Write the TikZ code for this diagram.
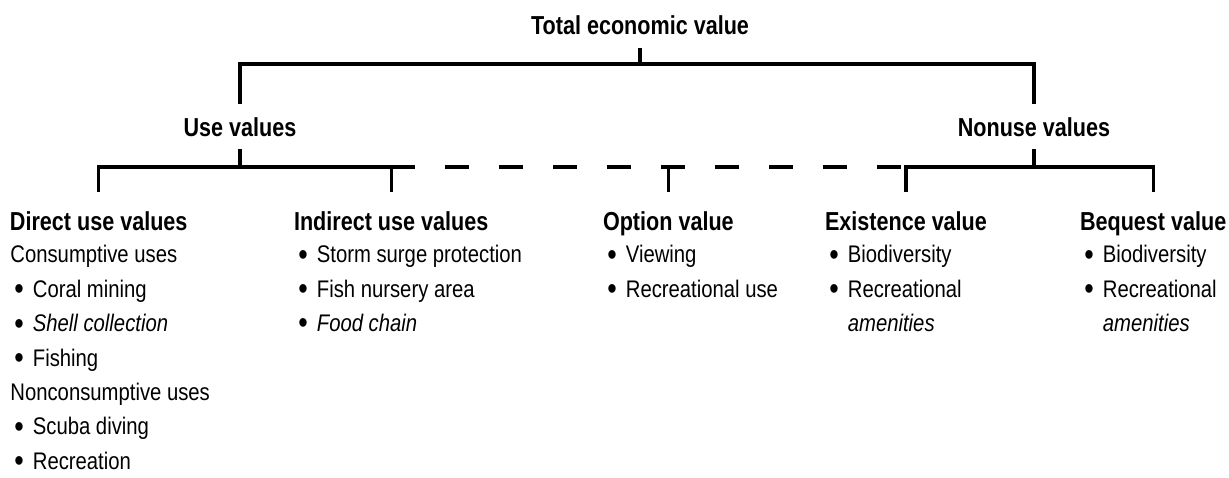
\documentclass[tikz,border=0pt]{standalone}
\usepackage{fontspec}
\setmainfont{Liberation Sans}[FakeStretch=0.845]
\newfontfamily\headfont{Liberation Sans}[FakeStretch=0.83]
\usepackage{tikz}
\usetikzlibrary{calc}
\newcommand{\itm}{\hspace*{2pt}\raisebox{-1.2pt}{\fontsize{16}{16}\selectfont\textbullet}\hspace{4.5pt}}
\newcommand{\itmgap}{\hphantom{\itm}}

\begin{document}
\begin{tikzpicture}[x=0.5pt, y=-0.5pt,
  headbox/.style={font=\headfont\bfseries\fontsize{13}{15}\selectfont, inner sep=0, text height=9.5pt, text depth=0pt},
  listbox/.style={font=\fontsize{12}{17.2}\selectfont, inner sep=0, align=left, anchor=north west},
  branch/.style={line width=1.6pt}]
\useasboundingbox (0,0) rectangle (1229,477);
%levels
\node[headbox, outer sep=7pt, anchor=base] (v1) at (640,34) {Total economic value};
\node[headbox, outer sep=6.5pt, anchor=base] (v2) at (240,136) {Use values};
\node[headbox, outer sep=6.5pt, anchor=base] (v3) at (1034,136) {Nonuse values};
%columns (outer sep 9.5pt = 19 units to the left)
\node[headbox, outer sep=9.5pt, anchor=base west] (v4) at (-9,230) {Direct use values};
\node[headbox, outer sep=9.5pt, anchor=base west] (v5) at (275,230) {Indirect use values};
\node[headbox, outer sep=9.5pt, anchor=base west] (v6) at (584,230) {Option value};
\node[headbox, outer sep=9.5pt, anchor=base west] (v7) at (806,230) {Existence value};
\node[headbox, outer sep=9.5pt, anchor=base west] (v8) at (1061,230) {Bequest value};
%lists
\node[listbox] (l4) at (10,245) {Consumptive uses\\ \itm Coral mining\\ \itm\textit{Shell collection}\\ \itm Fishing\\ Nonconsumptive uses\\ \itm Scuba diving\\ \itm Recreation};
\node[listbox] (l5) at (294,245) {\itm Storm surge protection\\ \itm Fish nursery area\\ \itm\textit{Food chain}};
\node[listbox] (l6) at (603,245) {\itm Viewing\\ \itm Recreational use};
\node[listbox] (l7) at (825,245) {\itm Biodiversity\\ \itm Recreational\\ \itmgap\textit{amenities}};
\node[listbox] (l8) at (1080,245) {\itm Biodiversity\\ \itm Recreational\\ \itmgap\textit{amenities}};
%brackets
\coordinate (b1) at (0,64);
\coordinate (b2) at (0,167);
\draw[branch] (v1.south) -- (v1.south |- b1);
\draw[branch] (v2.north) |- (v3.north |- b1) -- (v3.north);
\draw[branch] (v2.south) -- (v2.south |- b2);
\draw[branch] (v3.south) -- (v3.south |- b2);
\draw[branch] (v4.north) |- (v5.north |- b2) -- (v5.north);
\draw[branch, dash pattern=on 12pt off 15pt] (v5.north |- b2) -- (v7.north |- b2);
\draw[branch] (v6.north) -- (v6.north |- b2);
\draw[branch] (v7.north) |- (v8.north |- b2) -- (v8.north);
\end{tikzpicture}
\end{document}
